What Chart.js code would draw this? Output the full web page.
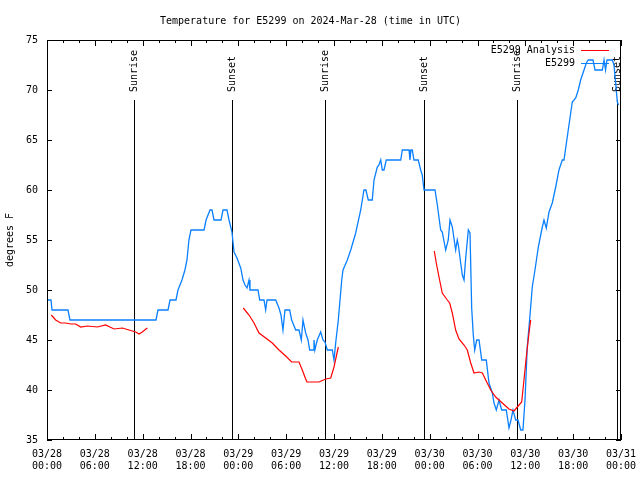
<!DOCTYPE html>
<html>
<head>
<meta charset="utf-8">
<script src="https://cdn.jsdelivr.net/npm/chart.js@4"></script>
<style>
  html, body { margin: 0; padding: 0; background: #fff; }
</style>
</head>
<body>
<canvas id="chart" width="640" height="480"></canvas>
<script>
// ── Data (hours since 03/28 00:00 UTC, degrees F)
const obsHours = [0.0, 0.5, 0.63, 2.63, 2.88, 13.67, 13.92, 15.18, 15.43, 16.18, 16.43, 16.93, 17.3, 17.56, 17.8, 18.06,
  19.7, 19.95, 20.45, 20.7, 20.95, 21.83, 22.08, 22.58, 22.83, 23.2, 23.46, 23.83, 24.3, 24.59, 24.84, 25.09, 25.34, 25.46,
  25.68, 26.47, 26.68, 27.22, 27.43, 27.6, 28.69, 29.1, 29.35, 29.6, 29.85, 30.44, 30.69, 31.2, 31.61, 31.9, 32.11, 32.45,
  32.74, 32.95, 33.37, 33.49, 33.6, 33.9, 34.33, 34.62, 34.87, 35.16, 35.79, 36.0, 36.21, 36.54, 36.97, 37.13, 37.67, 38.1,
  38.72, 39.35, 39.76, 40.0, 40.3, 40.8, 41.02, 41.43, 41.64, 41.86, 42.06, 42.27, 42.56, 44.37, 44.57, 45.41, 45.53, 45.66,
  45.82, 46.03, 46.57, 46.87, 47.07, 47.29, 48.67, 48.96, 49.38, 49.58, 50.01, 50.33, 50.55, 50.84, 51.26, 51.46, 51.6,
  51.89, 52.1, 52.31, 52.52, 52.85, 53.06, 53.27, 53.47, 53.65, 53.9, 54.19, 54.53, 55.1, 55.44, 55.86, 56.07, 56.36, 56.7,
  57.03, 57.61, 57.95, 58.2, 58.45, 58.79, 59.08, 59.42, 59.7, 59.96, 60.24, 60.46, 60.67, 60.87, 61.21, 61.63, 62.13,
  62.34, 62.63, 62.97, 63.38, 63.81, 64.22, 64.64, 64.85, 65.26, 65.6, 65.89, 66.32, 66.64, 66.94, 67.36, 67.65, 67.9,
  68.49, 68.74, 69.66, 69.87, 70.06, 70.24, 70.91, 71.12, 71.33, 71.54, 71.69];
const obsTemps = [49, 49, 48, 48, 47, 47, 48, 48, 49, 49, 50, 51, 52, 53, 55, 56,
  56, 57, 58, 58, 57, 57, 58, 58, 57, 55.8, 53.8, 53.2, 52.2, 51, 50.5, 50.2, 51, 50,
  50, 50, 49, 49, 48, 49, 49, 48.2, 47.5, 46, 48, 48, 47, 46, 46, 45, 47, 45.7,
  45, 44, 44, 45, 44, 45, 45.8, 45, 44.8, 44, 44, 43, 44.7, 47, 51, 52, 53, 54,
  55.7, 58, 60, 60, 59, 59, 61, 62.3, 62.5, 63, 62, 62, 63, 63, 64, 64, 63, 64,
  64, 63, 63, 62, 61.5, 60, 60, 58.5, 56, 55.8, 54, 55, 57, 56.3, 54, 55, 54.5,
  52.7, 51.5, 51, 53.2, 56, 55.7, 48.2, 45.5, 44, 45, 45, 43, 43, 40.7, 39.7, 38.7, 38, 39,
  38, 38, 36.2, 37, 38, 37, 37, 36, 36, 39, 44.3, 46.3, 48.3, 50.3, 52, 54.3, 56.3,
  57, 56.2, 57.8, 58.7, 60.3, 62, 63, 63, 65.3, 67.2, 68.8, 69.2, 70, 71, 72, 72.7, 73,
  73, 72, 72, 73, 72, 73, 73, 72.5, 70.7, 68.8, 68.5];

const anaHours = [0.54, 1.09, 1.72, 2.35, 2.97, 3.6, 4.23, 5.06, 6.31, 7.36, 8.4, 9.45, 10.29, 11.13, 11.54, 11.95, 12.58,
  18.0,
  24.62, 25.34, 25.97, 26.59, 27.43, 28.26, 29.1, 29.94, 30.69, 31.61, 32.02, 32.45, 32.61, 34.12, 34.96, 35.59, 36.0, 36.54,
  42.0,
  48.58, 48.83, 49.17, 49.58, 50.21, 50.51, 50.84, 51.26, 51.68, 52.31, 52.72, 53.15, 53.56, 54.19, 54.61, 55.03, 55.66,
  56.28, 57.11, 57.95, 58.58, 58.99, 59.54, 59.83, 60.12, 60.46, 60.67];
const anaTemps = [47.5, 47, 46.7, 46.7, 46.6, 46.6, 46.3, 46.4, 46.3, 46.5, 46.1, 46.2, 46, 45.8, 45.6, 45.8, 46.2,
  null,
  48.2, 47.5, 46.7, 45.7, 45.2, 44.7, 44, 43.4, 42.8, 42.8, 42, 41.1, 40.8, 40.8, 41.1, 41.2, 42.3, 44.3,
  null,
  53.9, 52.7, 51.3, 49.7, 49, 48.7, 47.7, 46, 45.1, 44.5, 44, 42.7, 41.7, 41.8, 41.7, 41, 40,
  39.3, 38.7, 38.1, 37.9, 38.3, 38.8, 41, 43.3, 45.7, 47];

const eventHours  = [10.91, 23.2, 34.9, 47.3, 58.97, 71.45];
const eventLabels = ['Sunrise', 'Sunset', 'Sunrise', 'Sunset', 'Sunrise', 'Sunset'];

const xTickHours  = [0, 6, 12, 18, 24, 30, 36, 42, 48, 54, 60, 66, 72];
const xTickLabels = [['03/28', '00:00'], ['03/28', '06:00'], ['03/28', '12:00'], ['03/28', '18:00'],
  ['03/29', '00:00'], ['03/29', '06:00'], ['03/29', '12:00'], ['03/29', '18:00'],
  ['03/30', '00:00'], ['03/30', '06:00'], ['03/30', '12:00'], ['03/30', '18:00'], ['03/31', '00:00']];

const FONT = 'DejaVu Sans Mono';
const BLUE = '#0a80ff';
const RED  = '#ff0000';

// ── Frame with inward ticks + sunrise/sunset markers + legend
const framePlugin = {
  id: 'frame',
  beforeDatasetsDraw(chart) {
    const { ctx, chartArea: a, scales: { x } } = chart;
    ctx.save();
    ctx.strokeStyle = '#000';
    ctx.lineWidth = 1;
    ctx.fillStyle = '#000';
    ctx.font = `10px ${FONT}`;
    ctx.textAlign = 'left';
    ctx.textBaseline = 'middle';
    eventHours.forEach((h, i) => {
      const px = Math.round(x.getPixelForValue(h)) + 0.5;
      ctx.beginPath();
      ctx.moveTo(px, a.top + 60);
      ctx.lineTo(px, a.bottom);
      ctx.stroke();
      ctx.save();
      ctx.translate(px, a.top + 52);
      ctx.rotate(-Math.PI / 2);
      ctx.fillText(eventLabels[i], 0, 0);
      ctx.restore();
    });
    ctx.restore();
  },
  afterDraw(chart) {
    const { ctx, chartArea: a, scales: { x, y } } = chart;
    ctx.save();
    ctx.strokeStyle = '#000';
    ctx.lineWidth = 1;
    ctx.strokeRect(a.left + 0.5, a.top + 0.5, a.right - a.left - 1, a.bottom - a.top - 1);
    ctx.beginPath();
    for (let h = 0; h <= 72; h += 2) {
      const px = Math.round(x.getPixelForValue(h)) + 0.5;
      const len = h % 6 === 0 ? 6 : 3;
      ctx.moveTo(px, a.bottom); ctx.lineTo(px, a.bottom - len);
      ctx.moveTo(px, a.top);    ctx.lineTo(px, a.top + len);
    }
    for (let v = 35; v <= 75; v += 5) {
      const py = Math.round(y.getPixelForValue(v)) + 0.5;
      ctx.moveTo(a.left, py);  ctx.lineTo(a.left + 5, py);
      ctx.moveTo(a.right, py); ctx.lineTo(a.right - 5, py);
    }
    ctx.stroke();

    // legend
    ctx.font = `10px ${FONT}`;
    ctx.textAlign = 'right';
    ctx.textBaseline = 'middle';
    ctx.fillStyle = '#000';
    chart.data.datasets.forEach((ds, i) => {
      const ly = a.top + 10 + i * 13;
      ctx.fillText(ds.label, 575, ly);
      ctx.strokeStyle = ds.borderColor;
      ctx.beginPath();
      ctx.moveTo(581, ly + 0.5);
      ctx.lineTo(609, ly + 0.5);
      ctx.stroke();
    });
    ctx.restore();
  }
};

const tickFont = { family: FONT, size: 10 };

new Chart(document.getElementById('chart'), {
  type: 'line',
  data: {
    datasets: [
      { label: 'E5299 Analysis', data: anaHours.map((h, i) => ({ x: h, y: anaTemps[i] })),
        borderColor: RED, borderWidth: 1.2, pointRadius: 0, tension: 0, spanGaps: false },
      { label: 'E5299', data: obsHours.map((h, i) => ({ x: h, y: obsTemps[i] })),
        borderColor: BLUE, borderWidth: 1.3, pointRadius: 0, tension: 0 }
    ]
  },
  options: {
    responsive: false,
    animation: false,
    devicePixelRatio: 1,
    layout: { padding: { left: 0, right: 19, top: 0, bottom: 0 } },
    plugins: {
      legend: { display: false },
      tooltip: { enabled: false },
      title: {
        display: true,
        text: 'Temperature for E5299 on 2024-Mar-28 (time in UTC)',
        color: '#000',
        font: { family: FONT, size: 10, weight: 'normal' },
        padding: { top: 15, bottom: 13 }
      }
    },
    scales: {
      x: {
        type: 'linear', min: 0, max: 72,
        afterBuildTicks: s => { s.ticks = xTickHours.map(v => ({ value: v })); },
        afterFit: s => { s.height = 40; s.paddingLeft = 0; s.paddingRight = 0; },
        ticks: { callback: v => xTickLabels[xTickHours.indexOf(v)], padding: 8, maxRotation: 0,
                 autoSkip: false, color: '#000', font: tickFont },
        grid: { display: false, drawTicks: false },
        border: { display: false }
      },
      y: {
        min: 35, max: 75,
        afterFit: s => { s.width = 47; s.paddingTop = 0; s.paddingBottom = 0; },
        ticks: { stepSize: 5, padding: 9, color: '#000', font: tickFont },
        title: { display: true, text: 'degrees F', color: '#000', font: tickFont, padding: { top: 4, bottom: 0 } },
        grid: { display: false, drawTicks: false },
        border: { display: false }
      }
    }
  },
  plugins: [framePlugin]
});
</script>
</body>
</html>
